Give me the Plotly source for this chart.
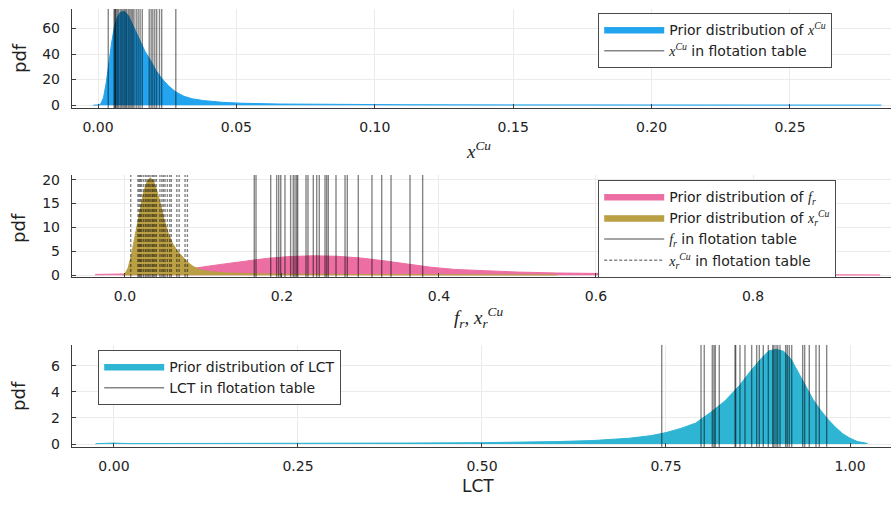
import plotly.graph_objects as go

# ---------------- copper grade x^Cu ----------------
xcu_grid = [-0.0017, 0.0000, 0.0010, 0.0020, 0.0030, 0.0040, 0.0050, 0.0060, 0.0070, 0.0080,
            0.0095, 0.0110, 0.0125, 0.0140, 0.0155, 0.0170, 0.0190, 0.0210, 0.0230, 0.0255,
            0.0280, 0.0310, 0.0340, 0.0380, 0.0450, 0.0520, 0.0650, 0.0850, 0.1100, 0.1500,
            0.2000, 0.2500, 0.2830]
xcu_pdf = [0.0, 0.2, 1.0, 6.0, 18.0, 35.0, 50.0, 62.0, 69.0, 72.5,
           73.5, 70.0, 63.0, 56.0, 49.0, 42.0, 35.0, 27.0, 21.0, 15.0,
           10.5, 7.0, 5.0, 3.6, 2.2, 1.5, 0.9, 0.55, 0.35, 0.22,
           0.15, 0.10, 0.05]
xcu_table = [0.0037, 0.0058, 0.0061, 0.0063, 0.0065, 0.0070, 0.0074, 0.0080, 0.0085, 0.0090,
             0.0095, 0.0100, 0.0104, 0.0110, 0.0115, 0.0120, 0.0125, 0.0130, 0.0138, 0.0145,
             0.0152, 0.0160, 0.0185, 0.0192, 0.0198, 0.0205, 0.0212, 0.0222, 0.0230, 0.0281]

# ---------------- recovery factor f_r ----------------
fr_grid = [-0.038, 0.000, 0.030, 0.060, 0.090, 0.120, 0.150, 0.180, 0.210, 0.240,
           0.270, 0.300, 0.330, 0.360, 0.390, 0.420, 0.450, 0.500, 0.550, 0.600,
           0.700, 0.800, 0.900, 0.962]
fr_pdf = [0.15, 0.25, 0.5, 0.95, 1.5, 2.2, 2.9, 3.5, 3.9, 4.05,
          3.95, 3.6, 3.0, 2.3, 1.65, 1.2, 0.95, 0.65, 0.45, 0.32,
          0.18, 0.12, 0.07, 0.05]
fr_table = [0.1647, 0.1669, 0.1856, 0.1932, 0.1958, 0.1983, 0.2038, 0.2110, 0.2144, 0.2166,
            0.2187, 0.2200, 0.2306, 0.2331, 0.2399, 0.2442, 0.2475, 0.2548, 0.2569, 0.2590,
            0.2688, 0.2803, 0.2832, 0.2972, 0.3146, 0.3270, 0.3389, 0.3631, 0.3792]

# ---------------- tailings grade x_r^Cu ----------------
xrcu_grid = [-0.003, 0.000, 0.004, 0.008, 0.012, 0.016, 0.020, 0.024, 0.028, 0.032,
             0.036, 0.040, 0.045, 0.050, 0.055, 0.060, 0.066, 0.072, 0.079, 0.087,
             0.096, 0.110, 0.130, 0.160, 0.200, 0.300, 0.400, 0.550]
xrcu_pdf = [0.0, 0.3, 1.5, 4.0, 7.5, 11.0, 14.5, 17.5, 19.5, 20.4,
            19.8, 18.0, 15.0, 11.5, 8.8, 6.8, 5.2, 4.0, 2.8, 1.8,
            1.1, 0.7, 0.45, 0.3, 0.2, 0.12, 0.08, 0.05]
xrcu_table = [0.0073, 0.0165, 0.0180, 0.0195, 0.0210, 0.0235, 0.0260, 0.0280, 0.0300, 0.0320,
              0.0345, 0.0360, 0.0380, 0.0400, 0.0445, 0.0470, 0.0490, 0.0510, 0.0540, 0.0570,
              0.0590, 0.0660, 0.0690, 0.0765, 0.0795]

# ---------------- LCT ----------------
lct_grid = [-0.025, 0.000, 0.020, 0.100, 0.200, 0.300, 0.400, 0.500, 0.550, 0.600,
            0.650, 0.700, 0.730, 0.750, 0.770, 0.790, 0.810, 0.830, 0.850, 0.865,
            0.880, 0.890, 0.900, 0.910, 0.920, 0.930, 0.940, 0.950, 0.960, 0.970,
            0.980, 0.990, 1.000, 1.010, 1.024]
lct_pdf = [0.03, 0.08, 0.04, 0.04, 0.05, 0.06, 0.08, 0.11, 0.14, 0.19,
           0.27, 0.45, 0.65, 0.88, 1.2, 1.6, 2.4, 3.3, 4.5, 5.6,
           6.6, 7.15, 7.25, 7.1, 6.5, 5.5, 4.4, 3.4, 2.6, 1.9,
           1.3, 0.8, 0.45, 0.2, 0.05]
lct_table = [0.7442, 0.7976, 0.8020, 0.8129, 0.8152, 0.8170, 0.8224, 0.8438, 0.8447, 0.8505,
             0.8573, 0.8664, 0.8732, 0.8768, 0.8822, 0.8890, 0.8950, 0.8967, 0.8995, 0.9018,
             0.9049, 0.9126, 0.9148, 0.9175, 0.9208, 0.9357, 0.9384, 0.9447, 0.9538, 0.9583,
             0.9683]

# ---------------- axes ticks ----------------
x1_ticks = [0.0, 0.05, 0.10, 0.15, 0.20, 0.25]
x1_labels = ["0.00", "0.05", "0.10", "0.15", "0.20", "0.25"]
y1_ticks = [0, 20, 40, 60]
x2_ticks = [0.0, 0.2, 0.4, 0.6, 0.8]
x2_labels = ["0.0", "0.2", "0.4", "0.6", "0.8"]
y2_ticks = [0, 5, 10, 15, 20]
x3_ticks = [0.0, 0.25, 0.50, 0.75, 1.00]
x3_labels = ["0.00", "0.25", "0.50", "0.75", "1.00"]
y3_ticks = [0, 2, 4, 6]

X1_RANGE = [-0.0094, 0.2865]
Y1_RANGE = [-2.3, 75.3]
X2_RANGE = [-0.0675, 0.9758]
Y2_RANGE = [-0.4, 21.0]
X3_RANGE = [-0.057, 1.0557]
Y3_RANGE = [-0.22, 7.6]

BLUE = "#22A5EE"
PINK = "#EC6EA2"
GOLD = "#BA9F45"
TEAL = "#2FB5D4"
VLINE = "rgba(0,0,0,0.48)"
SERIF = "Liberation Serif"
SANS = "DejaVu Sans"


def math(s):
    return f'<span style="font-family:{SERIF}">{s}</span>'


XCU = math("<i>x</i><sup><i>Cu</i></sup>")
FR = math("<i>f</i><sub><i>r</i></sub>")
XRCU = math("<i>x</i><sub><i>r</i></sub><sup><i>Cu</i></sup>")

fig = go.Figure()


def density(x, y, color, name, xa, ya, legend):
    fig.add_trace(go.Scatter(
        x=x, y=y, mode="lines", fill="tozeroy", fillcolor=color,
        line=dict(color=color, width=1), name=name,
        xaxis=xa, yaxis=ya, legend=legend, hoverinfo="skip"))


def vlines(values, yrange, name, xa, ya, legend, dash="solid"):
    for i, v in enumerate(values):
        fig.add_trace(go.Scatter(
            x=[v, v], y=yrange, mode="lines",
            line=dict(color=VLINE, width=1.4, dash=dash),
            name=name, legendgroup=name, showlegend=(i == 0),
            xaxis=xa, yaxis=ya, legend=legend, hoverinfo="skip"))


# panel 1
density(xcu_grid, xcu_pdf, BLUE, "Prior distribution of " + XCU, "x", "y", "legend")
vlines(xcu_table, Y1_RANGE, XCU + " in flotation table", "x", "y", "legend")

# panel 2
density(fr_grid, fr_pdf, PINK, "Prior distribution of " + FR, "x2", "y2", "legend2")
density(xrcu_grid, xrcu_pdf, GOLD, "Prior distribution of " + XRCU, "x2", "y2", "legend2")
vlines(fr_table, Y2_RANGE, FR + " in flotation table", "x2", "y2", "legend2")
vlines(xrcu_table, Y2_RANGE, XRCU + " in flotation table", "x2", "y2", "legend2",
       dash="3px,2px")

# panel 3
density(lct_grid, lct_pdf, TEAL, "Prior distribution of LCT", "x3", "y3", "legend3")
vlines(lct_table, Y3_RANGE, "LCT in flotation table", "x3", "y3", "legend3")

H = 507.0
W_L = 72.0
W_P = 891.0 - W_L


def dom(top_px, bottom_px):
    return [1 - bottom_px / H, 1 - top_px / H]


axis_common = dict(
    showgrid=True, gridcolor="#ebebeb", gridwidth=1, zeroline=False,
    showline=True, linecolor="#3c3c3c", linewidth=1.4,
    ticks="inside", ticklen=4, tickcolor="#3c3c3c", tickwidth=1,
    tickfont=dict(family=SANS, size=14, color="#222"),
    mirror=False, fixedrange=True,
)

fig.update_layout(
    width=891, height=507,
    margin=dict(l=72, r=0, t=0, b=0),
    paper_bgcolor="white", plot_bgcolor="white",
    font=dict(family=SANS, size=14, color="#222"),
    xaxis=dict(axis_common, domain=[0, 1], anchor="y", range=X1_RANGE,
               tickvals=x1_ticks, ticktext=x1_labels, ticklabelstandoff=6),
    yaxis=dict(axis_common, domain=dom(6, 107), anchor="x", range=Y1_RANGE,
               tickvals=y1_ticks, ticklabelstandoff=8),
    xaxis2=dict(axis_common, domain=[0, 1], anchor="y2", range=X2_RANGE,
                tickvals=x2_ticks, ticktext=x2_labels, ticklabelstandoff=6),
    yaxis2=dict(axis_common, domain=dom(175, 279), anchor="x2", range=Y2_RANGE,
                tickvals=y2_ticks, ticklabelstandoff=8),
    xaxis3=dict(axis_common, domain=[0, 1], anchor="y3", range=X3_RANGE,
                tickvals=x3_ticks, ticktext=x3_labels, ticklabelstandoff=6),
    yaxis3=dict(axis_common, domain=dom(348, 452), anchor="x3", range=Y3_RANGE,
                tickvals=y3_ticks, ticklabelstandoff=8),
)

legend_common = dict(
    bgcolor="white", bordercolor="#4a4a4a", borderwidth=1.2,
    font=dict(family=SANS, size=14, color="#222"),
    xanchor="left", yanchor="top", tracegroupgap=0, itemwidth=60,
)
fig.update_layout(
    legend=dict(legend_common, x=(598 - W_L) / W_P, y=1 - 10 / H),
    legend2=dict(legend_common, x=(598 - W_L) / W_P, y=1 - 180 / H),
    legend3=dict(legend_common, x=(98 - W_L) / W_P, y=1 - 353 / H),
)

# axis titles
xc = (478 - W_L) / W_P
annos = [
    dict(text="<i>x</i><sup><i>Cu</i></sup>", x=xc, y=1 - 150 / H, font=dict(family=SERIF, size=19)),
    dict(text="<i>f</i><sub><i>r</i></sub>, <i>x</i><sub><i>r</i></sub><sup><i>Cu</i></sup>",
         x=xc, y=1 - 320 / H, font=dict(family=SERIF, size=19)),
    dict(text="LCT", x=xc, y=1 - 492 / H, font=dict(family=SANS, size=17)),
]
for yc in (56, 229, 400):
    annos.append(dict(text="pdf", x=(19 - W_L) / W_P, y=1 - yc / H, textangle=-90,
                      font=dict(family=SANS, size=18)))
for a in annos:
    a.update(xref="paper", yref="paper", showarrow=False, xanchor="center", yanchor="middle")
    a["font"]["color"] = "#222"
fig.update_layout(annotations=annos)

fig.write_html("out.html")
